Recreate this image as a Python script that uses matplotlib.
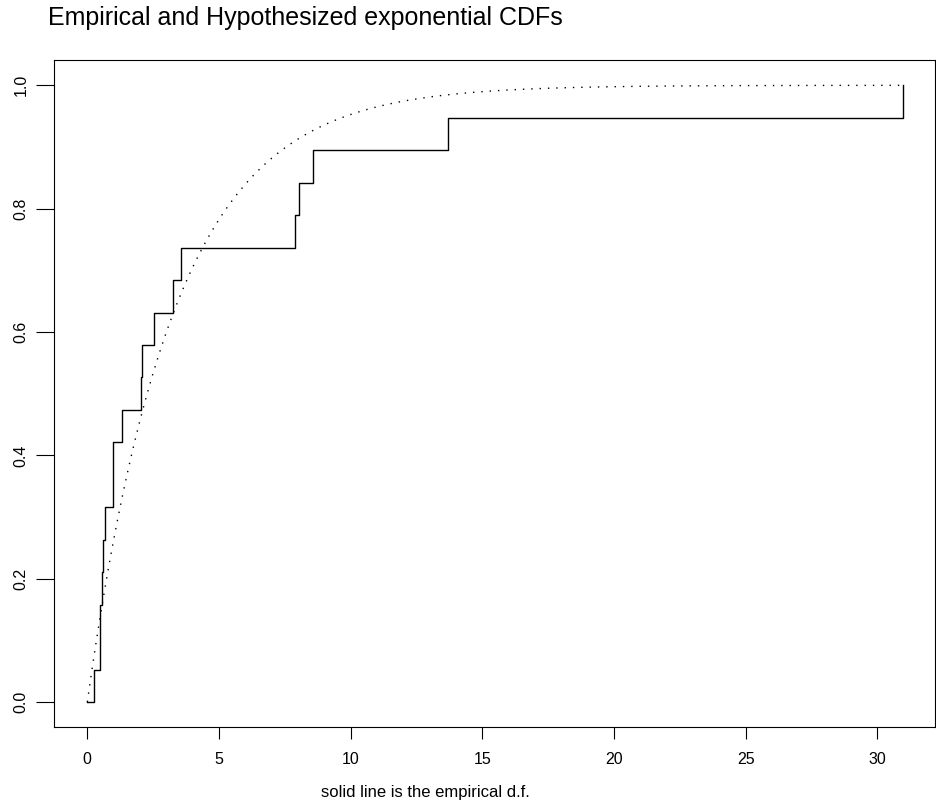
import numpy as np
import matplotlib
matplotlib.use("Agg")
import matplotlib.pyplot as plt

plt.rcParams['font.family'] = ['Liberation Sans', 'DejaVu Sans']

# sorted observations (read from the empirical step function)
obs = [0.254, 0.47, 0.49, 0.555, 0.59, 0.68, 0.96, 0.98, 1.305, 2.05, 2.07,
       2.55, 3.27, 3.55, 7.88, 8.04, 8.58, 13.7, 30.97]
rate = 0.305  # hypothesized exponential rate
x_ticks = [0, 5, 10, 15, 20, 25, 30]
y_ticks = [0.0, 0.2, 0.4, 0.6, 0.8, 1.0]
y_ticklabels = ["0.0", "0.2", "0.4", "0.6", "0.8", "1.0"]
title = "Empirical and Hypothesized exponential CDFs"
xlabel = "solid line is the empirical d.f."

n = len(obs)
fig = plt.figure(figsize=(9.36, 8.10), dpi=100)
ax = fig.add_axes([54/936, 1-726.7/810, (935-54)/936, (726.7-60)/810])

# empirical step function
xs = [0.0] + obs
ys = [0.0] + [(i + 1) / n for i in range(n)]
ax.step(xs, ys, where='post', color='black', lw=1.0)

# hypothesized exponential CDF
xc = np.linspace(0, max(obs), 600)
ax.plot(xc, 1 - np.exp(-rate * xc), color='black', lw=1.0, linestyle=(0, (1, 5)))

ax.set_xlim(-1.265, 32.19)
ax.set_ylim(-0.040, 1.041)

ax.set_xticks(x_ticks)
ax.set_xticklabels([str(t) for t in x_ticks])
ax.set_yticks(y_ticks)
ax.set_yticklabels(y_ticklabels, rotation=90, va='center')
ax.tick_params(axis='x', direction='out', length=8.4, width=0.8, labelsize=11.5, pad=10)
ax.tick_params(axis='y', direction='out', length=13, width=0.8, labelsize=11.5, pad=5.4)
for s in ax.spines.values():
    s.set_linewidth(0.8)

fig.text(48/936, 1-25/810, title, fontsize=18, ha='left', va='baseline')
fig.text(425/936, 1-792/810, xlabel, fontsize=12, ha='center', va='center')

fig.savefig("out.png", dpi=100)
